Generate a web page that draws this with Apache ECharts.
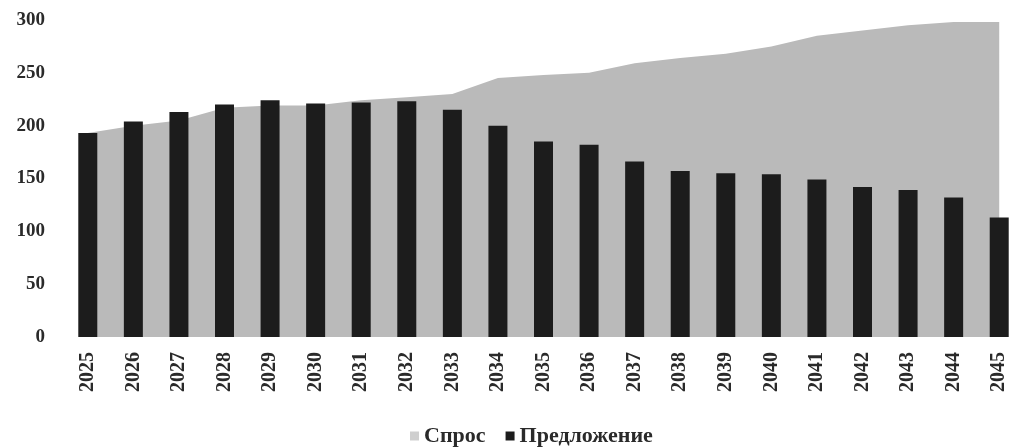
<!DOCTYPE html>
<html>
<head>
<meta charset="utf-8">
<script src="https://cdn.jsdelivr.net/npm/echarts@6/dist/echarts.min.js"></script>
<style>
  html, body { margin: 0; padding: 0; background: #ffffff; }
  #chart { width: 1010px; height: 447px; }
</style>
</head>
<body>
<div id="chart"></div>
<script>
// Years on the category axis
const years = ['2025','2026','2027','2028','2029','2030','2031','2032','2033','2034','2035',
               '2036','2037','2038','2039','2040','2041','2042','2043','2044','2045'];
// Demand (area) and supply (bars)
const demand = [193, 200, 205, 217, 219, 219, 224, 227, 230, 245, 248,
                250, 259, 264, 268, 275, 285, 290, 295, 298, 298];
const supply = [193, 204, 213, 220, 224, 221, 222, 223, 215, 200, 185,
                182, 166, 157, 155, 154, 149, 142, 139, 132, 113];
const yTicks = { min: 0, max: 300, step: 50 };

const serif = '"Liberation Serif", "DejaVu Serif", serif';
const chart = echarts.init(document.getElementById('chart'), null, { renderer: 'canvas' });

chart.setOption({
  animation: false,
  backgroundColor: '#ffffff',
  // plot area runs slightly past the right edge of the canvas
  grid: {
    left: 65, width: 957, top: 20, height: 317,
    containLabel: false,
    outerBoundsMode: 'none'
  },
  legend: {
    top: 420,
    left: 405,
    itemWidth: 9,
    itemHeight: 9,
    itemGap: 20,
    textStyle: { fontFamily: serif, fontSize: 22, fontWeight: 'bold', color: '#2a2a2a' },
    data: [
      { name: 'Спрос', icon: 'rect', itemStyle: { color: '#cfcfcf' } },
      { name: 'Предложение', icon: 'rect', itemStyle: { color: '#1c1c1c' } }
    ]
  },
  xAxis: {
    type: 'category',
    data: years,
    boundaryGap: true,
    axisLine: { show: false },
    axisTick: { show: false },
    axisLabel: {
      rotate: 90,
      margin: 15,
      fontFamily: serif,
      fontSize: 20,
      fontWeight: 'bold',
      color: '#2a2a2a',
      interval: 0
    }
  },
  yAxis: {
    type: 'value',
    min: yTicks.min,
    max: yTicks.max,
    interval: yTicks.step,
    axisLine: { show: false },
    axisTick: { show: false },
    splitLine: { show: false },
    axisLabel: {
      margin: 20,
      fontFamily: serif,
      fontSize: 19,
      fontWeight: 'bold',
      color: '#2a2a2a'
    }
  },
  series: [
    {
      name: 'Спрос',
      type: 'line',
      data: demand,
      symbol: 'none',
      lineStyle: { width: 0, color: '#bcbcbc' },
      itemStyle: { color: '#cfcfcf' },
      areaStyle: { color: '#bababa', opacity: 1 },
      z: 1
    },
    {
      name: 'Предложение',
      type: 'bar',
      data: supply,
      barWidth: 19,
      itemStyle: { color: '#1c1c1c' },
      z: 2
    }
  ]
});
</script>
</body>
</html>
